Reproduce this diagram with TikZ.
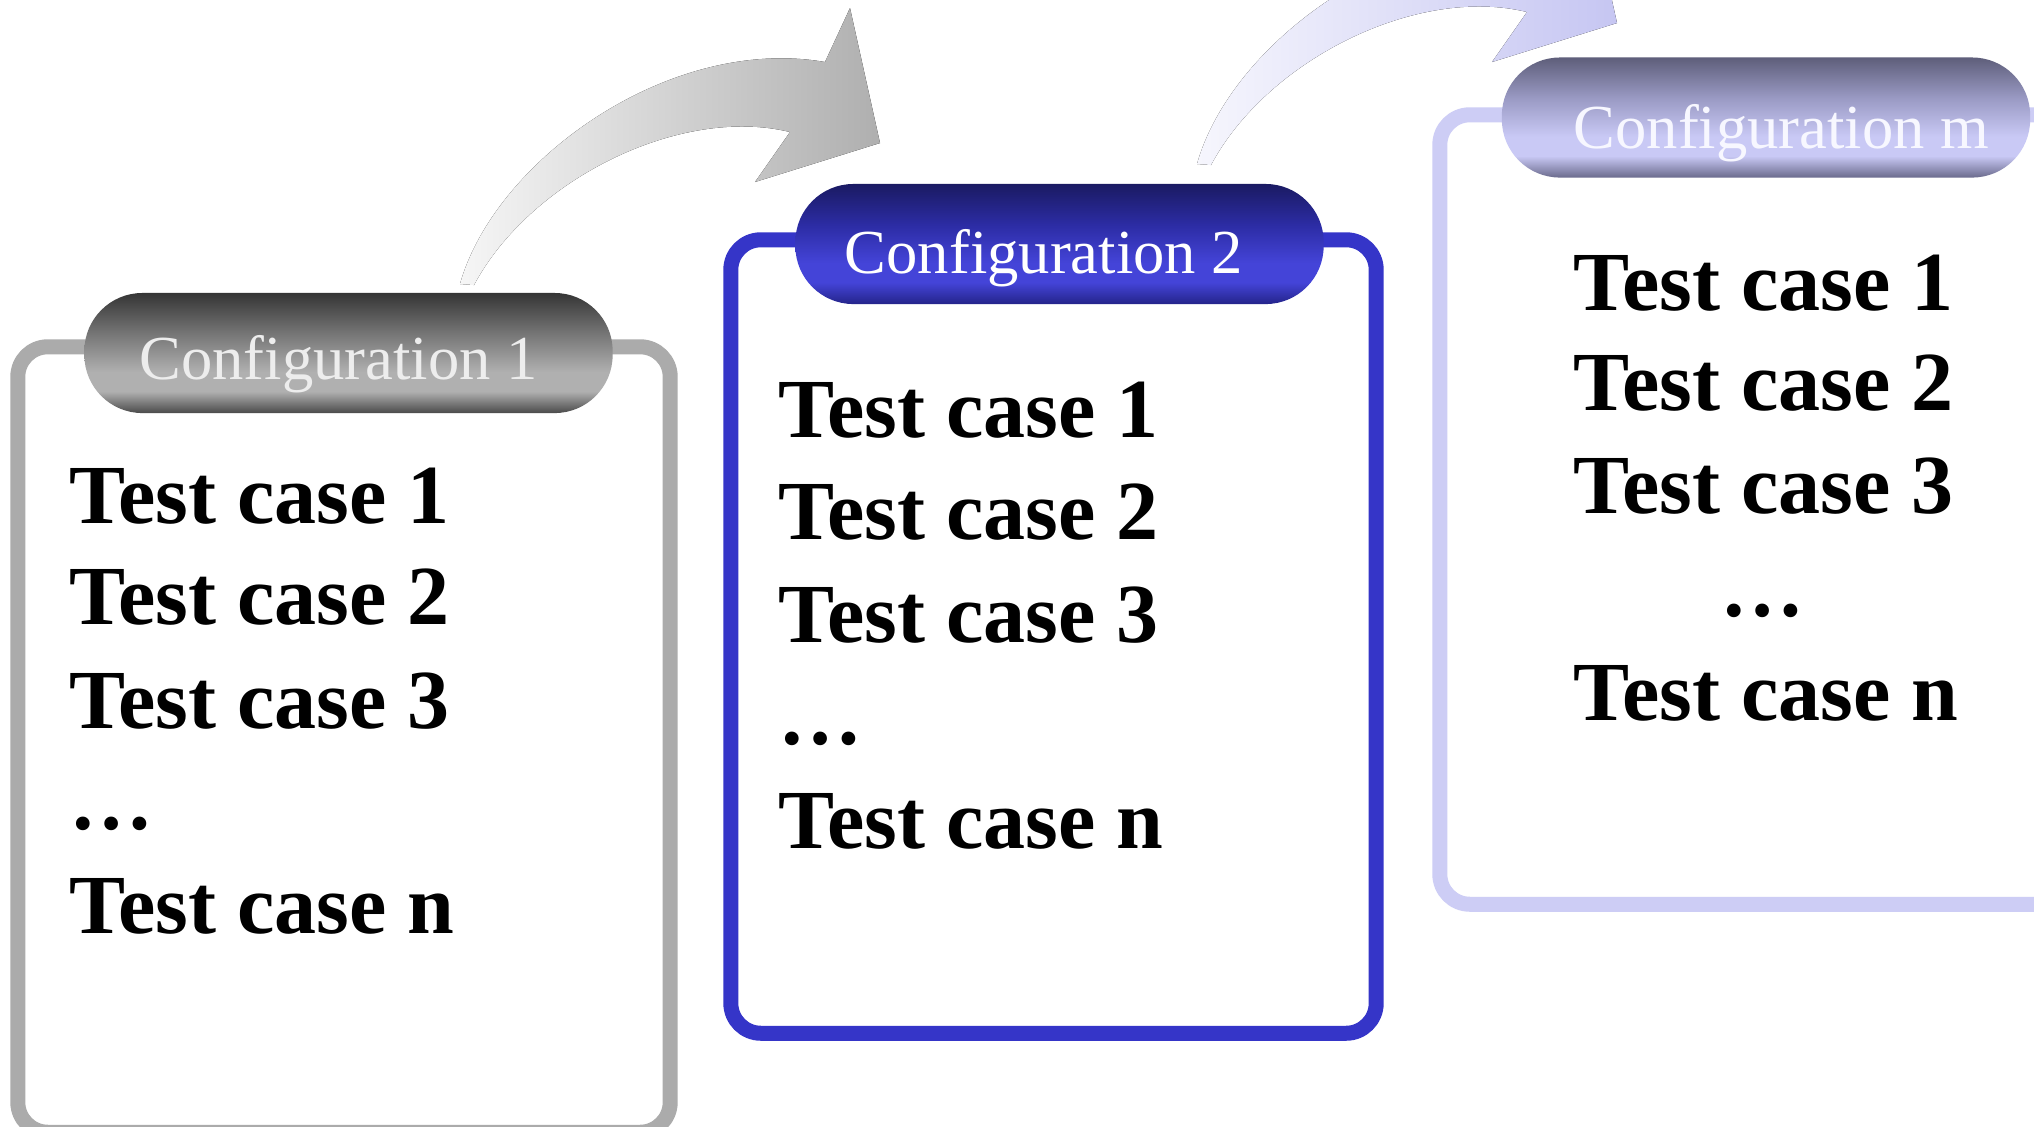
\documentclass[tikz,border=0pt]{standalone}
\usepackage{fontspec}
\setmainfont{Liberation Serif}
\definecolor{lineA}{HTML}{ABABAB}
\definecolor{lineB}{HTML}{3535C8}
\definecolor{lineC}{HTML}{CDCDF5}
\definecolor{gTop}{HTML}{353535}
\definecolor{gUp}{HTML}{767676}
\definecolor{gLight}{HTML}{B0B0B0}
\definecolor{gBot}{HTML}{4A4A4A}
\definecolor{bTop}{HTML}{1A1A62}
\definecolor{bUp}{HTML}{2C2CA4}
\definecolor{bLight}{HTML}{4444D8}
\definecolor{bBot}{HTML}{24248A}
\definecolor{lTop}{HTML}{5E5E7A}
\definecolor{lUp}{HTML}{9A9AC4}
\definecolor{lLight}{HTML}{C9C9F5}
\definecolor{lBot}{HTML}{6A6A8C}
\definecolor{arrAL}{HTML}{F6F6F6}
\definecolor{arrAR}{HTML}{AFAFAF}
\definecolor{arrBL}{HTML}{F6F6FD}
\definecolor{arrBR}{HTML}{C6C6F2}
\pgfdeclareverticalshading{pillgray}{100bp}{color(0bp)=(gBot); color(25bp)=(gBot); color(34bp)=(gLight); color(42bp)=(gLight); color(58bp)=(gUp); color(75bp)=(gTop); color(100bp)=(gTop)}
\pgfdeclareverticalshading{pillblue}{100bp}{color(0bp)=(bBot); color(25bp)=(bBot); color(34bp)=(bLight); color(42bp)=(bLight); color(58bp)=(bUp); color(75bp)=(bTop); color(100bp)=(bTop)}
\pgfdeclareverticalshading{pilllav}{100bp}{color(0bp)=(lBot); color(25bp)=(lBot); color(34bp)=(lLight); color(42bp)=(lLight); color(58bp)=(lUp); color(75bp)=(lTop); color(100bp)=(lTop)}
\begin{document}
\begin{tikzpicture}[x=0.01cm,y=-0.01cm,
  framebox/.style={draw, line width=0.15cm, rounded corners=0.3cm, inner sep=0, rectangle},
  pill/.style={rectangle, rounded corners=0.58cm, minimum width=5.28cm, minimum height=1.2cm, inner sep=0, shade},
  pilltext/.style={inner sep=0, anchor=base, font=\fontsize{17.8pt}{20pt}\selectfont},
  tc/.style={inner sep=0, anchor=base west, font=\fontsize{23.9pt}{28pt}\selectfont\bfseries},
  tcdots/.style={inner sep=0, anchor=base, font=\fontsize{23.9pt}{28pt}\selectfont\bfseries}]
\useasboundingbox (0,0) rectangle (2034,1126);
\clip (0,0) rectangle (2034,1126);
\fill[white] (0,0) rectangle (2034,1126);

% curved arrows
\coordinate (a1s) at (460,284);
\fill[left color=arrAL, right color=arrAR]
  (a1s) .. controls (495,160) and (670,35) .. (825,62) -- (850,8) -- (880,143) -- (755,182) -- (790,132)
  .. controls (680,105) and (530,180) .. (474,285) -- cycle;
\begin{scope}[shift={(737,-120)}]
\coordinate (a2s) at (460,284);
\fill[left color=arrBL, right color=arrBR]
  (a2s) .. controls (495,160) and (670,35) .. (825,62) -- (850,8) -- (880,143) -- (755,182) -- (790,132)
  .. controls (680,105) and (530,180) .. (474,285) -- cycle;
\end{scope}

% frames
\node[framebox, draw=lineA, minimum width=6.52cm, minimum height=7.85cm] (b1) at (344,739.5) {};
\node[framebox, draw=lineB, minimum width=6.45cm, minimum height=7.93cm] (b2) at (1053.5,636.5) {};
\node[framebox, draw=lineC, minimum width=6.60cm, minimum height=7.89cm] (b3) at (1770,509.5) {};

% header pills
\node[pill, shading=pillgray] (p1) at (348.5,353) {};
\node[pill, shading=pillblue] (p2) at (1059.5,244) {};
\node[pill, shading=pilllav] (p3) at (1766,117.5) {};
\node[pilltext, text=black!7] (t1) at (338.5,379) {Configuration 1};
\node[pilltext, text=white] (t2) at (1044,273) {Configuration 2};
\node[pilltext, text=blue!3] (t3) at (1781.5,148) {Configuration m};

% box 1
\node[tc] (c11) at (69,523) {Test case 1};
\node[tc] (c12) at (69,624) {Test case 2};
\node[tc] (c13) at (69,728) {Test case 3};
\node[tc] (c1d) at (69,829) {…};
\node[tc] (c1n) at (69,933) {Test case n};
% box 2
\node[tc] (c21) at (778,437) {Test case 1};
\node[tc] (c22) at (778,539) {Test case 2};
\node[tc] (c23) at (778,642) {Test case 3};
\node[tc] (c2d) at (778,744) {…};
\node[tc] (c2n) at (778,848) {Test case n};
% box 3
\node[tc] (c31) at (1573,310) {Test case 1};
\node[tc] (c32) at (1573,410) {Test case 2};
\node[tc] (c33) at (1573,513) {Test case 3};
\node[tcdots] (c3d) at (1762,616) {…};
\node[tc] (c3n) at (1573,720) {Test case n};
\end{tikzpicture}
\end{document}
